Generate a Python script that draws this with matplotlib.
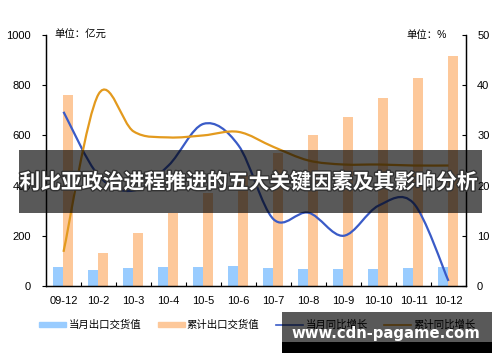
import matplotlib
matplotlib.use("Agg")
import matplotlib.pyplot as plt
import matplotlib.patheffects as pe
from matplotlib.path import Path
from matplotlib.patches import PathPatch, Rectangle
from matplotlib.lines import Line2D
import numpy as np

plt.rcParams['font.family'] = ['Liberation Sans', 'Noto Sans CJK SC', 'DejaVu Sans']

months = ["09-12", "10-2", "10-3", "10-4", "10-5", "10-6",
          "10-7", "10-8", "10-9", "10-10", "10-11", "10-12"]
monthly_export = [77, 63, 73, 76, 76, 81, 73, 67, 69, 69, 73, 76]
cumul_export = [760, 131, 211, 291, 370, 450, 530, 600, 673, 749, 827, 915]
monthly_yoy = [34.7, 22, 19, 24, 32.3, 28, 13.3, 14.6, 10.0, 16.0, 16.5, 1.0]
cumul_yoy = [6.8, 38.2, 30.8, 29.6, 30.0, 30.7, 27.7, 25.0, 24.2, 24.2, 24.0, 24.0]

C_BLUE_BAR = "#99ccff"
C_ORANGE_BAR = "#fdc89a"
C_BLUE_LINE = "#3a5bc7"
C_ORANGE_LINE = "#e39a1e"


def smooth_path(x, y):
    # bezier curve through the points, like a spreadsheet "smoothed line"
    pts = np.column_stack([x, y]).astype(float)
    verts = [pts[0]]
    codes = [Path.MOVETO]
    n = len(pts)
    for i in range(n - 1):
        p0 = pts[max(i - 1, 0)]
        p1 = pts[i]
        p2 = pts[i + 1]
        p3 = pts[min(i + 2, n - 1)]
        verts += [p1 + (p2 - p0) / 6, p2 - (p3 - p1) / 6, p2]
        codes += [Path.CURVE4] * 3
    return Path(verts, codes)


fig = plt.figure(figsize=(5, 3.62), dpi=100)
ax = fig.add_axes([0.092, 0.21, 0.84, 0.6933])
ax2 = ax.twinx()

x = np.arange(len(months))
w = 0.286
ax.bar(x - 0.157, monthly_export, width=w, color=C_BLUE_BAR, zorder=2)
ax.bar(x + 0.129, cumul_export, width=w, color=C_ORANGE_BAR, zorder=2)

ax2.add_patch(PathPatch(smooth_path(x, monthly_yoy), fill=False,
                        edgecolor=C_BLUE_LINE, lw=1.6, zorder=3))
ax2.add_patch(PathPatch(smooth_path(x, cumul_yoy), fill=False,
                        edgecolor=C_ORANGE_LINE, lw=1.6, zorder=3))

ax.set_xlim(-0.5, 11.5)
ax.set_ylim(0, 1000)
ax2.set_ylim(0, 50)
ax.set_yticks(range(0, 1001, 200))
ax2.set_yticks(range(0, 51, 10))
ax.set_xticks(x)
ax.set_xticklabels(months)
ax.set_xticks(np.arange(0.5, 11.5, 1), minor=True)
ax.tick_params(axis="x", which="major", length=0, labelsize=8, pad=7)
ax.tick_params(axis="x", which="minor", length=3, direction="in", width=0.8)
ax.tick_params(axis="y", length=3, direction="out", labelsize=8, pad=8)
ax2.tick_params(axis="y", length=3, direction="in", labelsize=8, pad=8)

for a in (ax, ax2):
    a.spines["top"].set_visible(False)
    for s in ("left", "right", "bottom"):
        a.spines[s].set_linewidth(0.9)
        a.spines[s].set_color("black")

ax.text(0.021, 1.0, "单位：亿元", transform=ax.transAxes, ha="left", va="center", fontsize=7.5)
ax.text(0.955, 1.0, "单位：%", transform=ax.transAxes, ha="right", va="center", fontsize=7.5)

handles = [Rectangle((0, 0), 1, 1, color=C_BLUE_BAR),
           Rectangle((0, 0), 1, 1, color=C_ORANGE_BAR),
           Line2D([], [], color=C_BLUE_LINE, lw=1.2),
           Line2D([], [], color=C_ORANGE_LINE, lw=1.2)]
labels = ["当月出口交货值", "累计出口交货值", "当月同比增长", "累计同比增长"]
fig.legend(handles, labels, loc="center", bbox_to_anchor=(0.515, 0.102), ncol=4,
           frameon=False, fontsize=7.5, handlelength=2.6, handleheight=0.45,
           handletextpad=0.2, columnspacing=1.6)

# overlay banner with title
fig.patches.append(Rectangle((0.038, 0.4116), 0.926, 0.174, transform=fig.transFigure,
                             facecolor="black", alpha=0.65, zorder=10))
fig.text(0.498, 0.497, "利比亚政治进程推进的五大关键因素及其影响分析", ha="center", va="center",
         color="white", fontsize=15, fontweight="bold", family=["Noto Sans CJK SC"], zorder=11,
         path_effects=[pe.withStroke(linewidth=2, foreground="#333333")])

# watermark
fig.patches.append(Rectangle((0.564, 0.055), 0.42, 0.083, transform=fig.transFigure,
                             facecolor="black", alpha=0.65, zorder=10))
fig.patches.append(Rectangle((0.564, 0.025), 0.42, 0.031, transform=fig.transFigure,
                             facecolor="black", zorder=10))
fig.text(0.772, 0.08, "www.cdn-pagame.com", ha="center", va="center", color="white",
         fontsize=10.7, fontweight="bold", family=["DejaVu Sans"], zorder=11)

fig.savefig("out.png", dpi=100)
